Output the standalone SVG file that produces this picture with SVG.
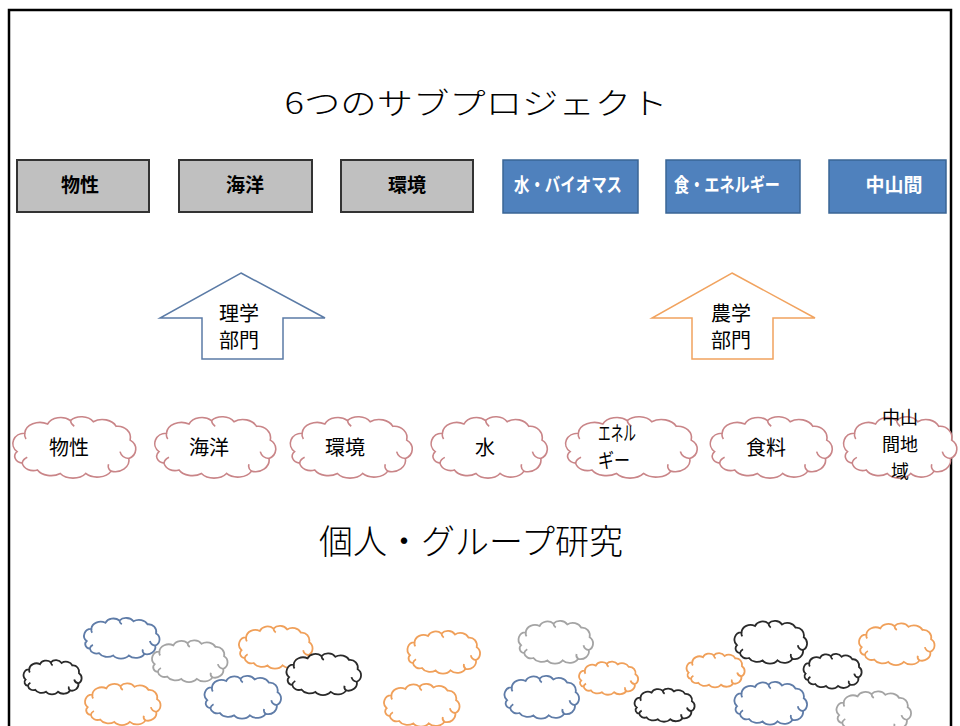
<svg xmlns="http://www.w3.org/2000/svg" xmlns:xlink="http://www.w3.org/1999/xlink" width="960" height="726" viewBox="0 0 960 726">
<style>
text{font-family:"Noto Sans CJK JP","Noto Sans",sans-serif;fill:#000;text-anchor:middle}
.title{font-size:30px;font-weight:300}
.sub{font-size:34px;font-weight:300}
.gbox{fill:#c0c0c0;stroke:#333;stroke-width:2}
.bbox{fill:#4f81bd;stroke:#3a6595;stroke-width:1.5}
.bt{font-size:19px;font-weight:700}
.bt.w{fill:#fff}
.arrL{fill:#fff;stroke:#5b7ba6;stroke-width:1.5}
.arrR{fill:#fff;stroke:#f1a35f;stroke-width:1.5}
.at{font-size:20px}
.ct{font-size:20px}
.ct3{font-size:18px}
.rc{stroke:#c98588;stroke-width:1.6}
.c-or{stroke:#f0a05a;stroke-width:1.8}
.c-bl{stroke:#5f7ca8;stroke-width:1.8}
.c-gr{stroke:#a4a4a4;stroke-width:1.8}
.c-bk{stroke:#2a2a2a;stroke-width:1.8}
</style>
<defs>
<g id="cloud">
<path fill="#fff" vector-effect="non-scaling-stroke" d="M -44,4 A 9,9 0 0 1 -38,-12 A 12,10 0 0 1 -20,-20 A 11,9 0 0 1 -2,-23 A 11,9 0 0 1 16,-22 A 12,10 0 0 1 34,-18 A 10,10 0 0 1 45,-6 A 9,9 0 0 1 44,10 A 11,10 0 0 1 30,21 A 12,9 0 0 1 10,23 A 12,9 0 0 1 -10,23 A 12,9 0 0 1 -28,20 A 9,8 0 0 1 -40,14 A 7,6 0 0 1 -44,4 Z"/>
<path fill="none" vector-effect="non-scaling-stroke" d="M -40,14 A 8,7 0 0 1 -36,9 M 44,10 A 8,8 0 0 1 37,4 M 30,21 A 7,6 0 0 1 28,15 M -2,-23 A 8,7 0 0 0 1,-18 M -38,-12 A 7,7 0 0 0 -37,-7"/>
</g>
</defs>
<rect width="960" height="726" fill="#fff"/>
<path d="M 9,727 V 10 H 951 V 727" fill="none" stroke="#000" stroke-width="2.5"/>

<g id="title"><text class="title" x="476" y="114" textLength="383" lengthAdjust="spacingAndGlyphs">6つのサブプロジェクト</text></g>

<g id="box-bussei"><rect class="gbox" x="17" y="160" width="132" height="52"/><text class="bt" x="80" y="192">物性</text></g>
<g id="box-kaiyo"><rect class="gbox" x="179" y="160" width="133" height="52"/><text class="bt" x="245" y="192">海洋</text></g>
<g id="box-kankyo"><rect class="gbox" x="341" y="160" width="132" height="52"/><text class="bt" x="407" y="192">環境</text></g>
<g id="box-mizu"><rect class="bbox" x="503" y="160" width="135" height="53"/><text class="bt w" x="568" y="192" textLength="108" lengthAdjust="spacingAndGlyphs">水・バイオマス</text></g>
<g id="box-shoku"><rect class="bbox" x="666" y="160" width="134" height="53"/><text class="bt w" x="727" y="192" textLength="106" lengthAdjust="spacingAndGlyphs">食・エネルギー</text></g>
<g id="box-chusankan"><rect class="bbox" x="829" y="160" width="117" height="53"/><text class="bt w" x="894" y="192">中山間</text></g>

<g id="arrow-rigaku"><polygon class="arrL" points="241,273 325,318 283,318 283,359 202,359 202,318 160,318"/><text class="at" x="239" y="321">理学</text><text class="at" x="239" y="348">部門</text></g>
<g id="arrow-nogaku"><polygon class="arrR" points="732,273 815,318 773,318 773,359 692,359 692,318 652,318"/><text class="at" x="731" y="321">農学</text><text class="at" x="731" y="348">部門</text></g>

<g id="cloud-bussei"><use xlink:href="#cloud" class="rc" transform="translate(73,447) scale(1.27,1.15)"/><text class="ct" x="69" y="455">物性</text></g>
<g id="cloud-kaiyo"><use xlink:href="#cloud" class="rc" transform="translate(214,447) scale(1.25,1.15)"/><text class="ct" x="209" y="455">海洋</text></g>
<g id="cloud-kankyo"><use xlink:href="#cloud" class="rc" transform="translate(350,447) scale(1.26,1.15)"/><text class="ct" x="345" y="455">環境</text></g>
<g id="cloud-mizu"><use xlink:href="#cloud" class="rc" transform="translate(488,447) scale(1.2,1.15)"/><text class="ct" x="485" y="455">水</text></g>
<g id="cloud-energy"><use xlink:href="#cloud" class="rc" transform="translate(630,447) scale(1.36,1.15)"/><text class="ct" x="617" y="441" textLength="38" lengthAdjust="spacingAndGlyphs">エネル</text><text class="ct" x="614" y="468" textLength="32" lengthAdjust="spacingAndGlyphs">ギー</text></g>
<g id="cloud-shokuryo"><use xlink:href="#cloud" class="rc" transform="translate(770,447) scale(1.26,1.15)"/><text class="ct" x="766" y="455">食料</text></g>
<g id="cloud-chusankan"><use xlink:href="#cloud" class="rc" transform="translate(899,447) scale(1.17,1.15)"/><text class="ct3" x="900" y="424">中山</text><text class="ct3" x="900" y="451">間地</text><text class="ct3" x="900" y="478">域</text></g>

<g id="subtitle"><text class="sub" x="471" y="554" textLength="304" lengthAdjust="spacingAndGlyphs">個人・グループ研究</text></g>

<g id="research-clouds">
<use xlink:href="#cloud" class="c-bl" transform="translate(121,638) scale(0.78,0.76)"/>
<use xlink:href="#cloud" class="c-gr" transform="translate(189,661) scale(0.78,0.78)"/>
<use xlink:href="#cloud" class="c-bk" transform="translate(52,677) scale(0.6,0.64)"/>
<use xlink:href="#cloud" class="c-or" transform="translate(122,704) scale(0.78,0.78)"/>
<use xlink:href="#cloud" class="c-or" transform="translate(275,647) scale(0.76,0.8)"/>
<use xlink:href="#cloud" class="c-bl" transform="translate(242,697) scale(0.79,0.8)"/>
<use xlink:href="#cloud" class="c-bk" transform="translate(323,674) scale(0.77,0.78)"/>
<use xlink:href="#cloud" class="c-or" transform="translate(443,652) scale(0.75,0.8)"/>
<use xlink:href="#cloud" class="c-or" transform="translate(421,705) scale(0.78,0.8)"/>
<use xlink:href="#cloud" class="c-gr" transform="translate(555,642) scale(0.77,0.8)"/>
<use xlink:href="#cloud" class="c-bl" transform="translate(541,697) scale(0.77,0.8)"/>
<use xlink:href="#cloud" class="c-or" transform="translate(608,678) scale(0.61,0.62)"/>
<use xlink:href="#cloud" class="c-bk" transform="translate(664,705) scale(0.62,0.62)"/>
<use xlink:href="#cloud" class="c-or" transform="translate(715,670) scale(0.6,0.64)"/>
<use xlink:href="#cloud" class="c-bk" transform="translate(770,642) scale(0.75,0.8)"/>
<use xlink:href="#cloud" class="c-bl" transform="translate(770,703) scale(0.75,0.8)"/>
<use xlink:href="#cloud" class="c-bk" transform="translate(832,671) scale(0.6,0.65)"/>
<use xlink:href="#cloud" class="c-or" transform="translate(896,644) scale(0.78,0.78)"/>
<use xlink:href="#cloud" class="c-gr" transform="translate(873,712) scale(0.77,0.78)"/>
</g>
<g id="connectors"/>
</svg>
